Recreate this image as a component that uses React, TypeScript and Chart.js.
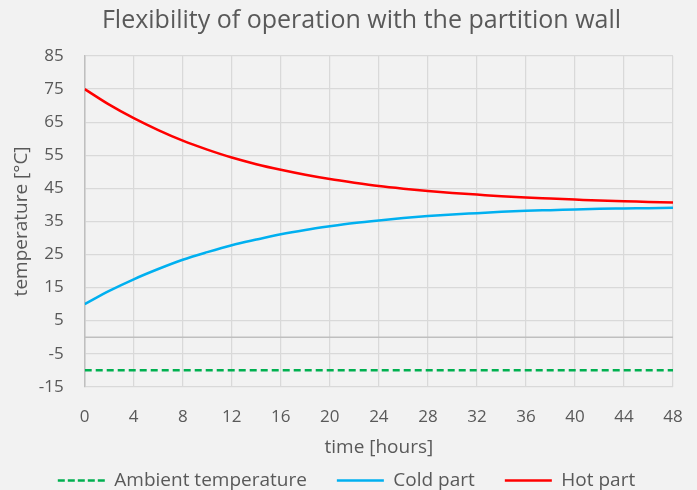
import React, { useEffect, useRef } from "react";
import { Chart, registerables } from "chart.js";
Chart.register(...registerables);

const hours = [0, 2, 4, 6, 8, 10, 12, 14, 16, 18, 20, 22, 24, 26, 28, 30, 32, 34, 36, 38, 40, 42, 44, 46, 48];
const hotPart = [75, 70.3, 66.2, 62.6, 59.4, 56.7, 54.3, 52.3, 50.6, 49.1, 47.8, 46.7, 45.7, 44.9, 44.2, 43.6, 43.1, 42.6, 42.2, 41.9, 41.6, 41.3, 41.1, 40.9, 40.7];
const coldPart = [10, 14.0, 17.5, 20.6, 23.4, 25.7, 27.8, 29.5, 31.1, 32.4, 33.5, 34.5, 35.3, 36.0, 36.6, 37.1, 37.5, 37.9, 38.2, 38.4, 38.6, 38.8, 38.9, 39.0, 39.1];
const ambientTemp = [-10, -10];
const ambientHours = [0, 48];

const zeroLinePlugin = {
  id: "zeroLine",
  beforeDatasetsDraw(chart: any) {
    const { ctx, chartArea, scales } = chart;
    const y = scales.y.getPixelForValue(0);
    ctx.save();
    ctx.strokeStyle = "#bfbfbf";
    ctx.lineWidth = 1.5;
    ctx.beginPath();
    ctx.moveTo(chartArea.left, y);
    ctx.lineTo(chartArea.right, y);
    ctx.stroke();
    ctx.restore();
  },
};

const titleShiftPlugin = {
  id: "titleShift",
  afterLayout(chart: any) {
    if (chart.titleBlock) chart.titleBlock.left += 30;
  },
};

export default function App() {
  const ref = useRef<HTMLCanvasElement>(null);
  useEffect(() => {
    document.body.style.margin = "0";
    document.body.style.background = "#f2f2f2";
    const font = "'Open Sans', 'Noto Sans', sans-serif";
    const chart = new Chart(ref.current!, {
      type: "line",
      data: {
        datasets: [
          {
            label: "Ambient temperature",
            data: ambientHours.map((h, i) => ({ x: h, y: ambientTemp[i] })),
            borderColor: "#00b050",
            backgroundColor: "#00b050",
            borderWidth: 2.5,
            borderDash: [7, 4],
            pointRadius: 0,
          },
          {
            label: "Cold part",
            data: hours.map((h, i) => ({ x: h, y: coldPart[i] })),
            borderColor: "#00b0f0",
            backgroundColor: "#00b0f0",
            borderWidth: 2.5,
            pointRadius: 0,
            cubicInterpolationMode: "monotone",
          },
          {
            label: "Hot part",
            data: hours.map((h, i) => ({ x: h, y: hotPart[i] })),
            borderColor: "#ff0000",
            backgroundColor: "#ff0000",
            borderWidth: 2.5,
            pointRadius: 0,
            cubicInterpolationMode: "monotone",
          },
        ],
      },
      options: {
        animation: false,
        responsive: false,
        maintainAspectRatio: false,
        layout: { padding: { left: 10, right: 14, top: 2, bottom: -10 } },
        plugins: {
          title: {
            display: true,
            text: "Flexibility of operation with the partition wall",
            color: "#595959",
            font: { family: font, size: 25, weight: "normal" },
            padding: { top: 4, bottom: 20 },
          },
          legend: {
            position: "bottom",
            labels: {
              usePointStyle: true,
              pointStyle: "line",
              pointStyleWidth: 47,
              boxHeight: 12,
              color: "#595959",
              font: { family: font, size: 19 },
              padding: 30,
              generateLabels(c: any) {
                const items = Chart.defaults.plugins.legend.labels.generateLabels(c);
                items.forEach((it: any) => {
                  const ds = c.data.datasets[it.datasetIndex];
                  it.lineDash = ds.borderDash ? [7, 3] : [];
                  it.lineWidth = 2.5;
                });
                return items;
              },
            },
          },
          tooltip: { enabled: false },
        },
        scales: {
          x: {
            type: "linear",
            min: 0,
            max: 48,
            afterFit(axis: any) {
              axis.paddingRight = 24;
            },
            ticks: { stepSize: 4, color: "#595959", font: { family: font, size: 17 }, padding: 20 },
            grid: { color: "#d9d9d9", lineWidth: 1.25, drawTicks: false },
            border: { display: false },
            title: {
              display: true,
              text: "time [hours]",
              color: "#595959",
              font: { family: font, size: 19, weight: "normal" },
              padding: { top: -11, bottom: -18 },
            },
          },
          y: {
            min: -15,
            max: 85,
            ticks: { stepSize: 10, color: "#595959", font: { family: font, size: 17 }, padding: 21 },
            grid: { color: "#d9d9d9", lineWidth: 1.25, drawTicks: false },
            border: { display: true, color: "#bfbfbf", width: 1.5 },
            title: {
              display: true,
              text: "temperature [°C]",
              color: "#595959",
              font: { family: font, size: 19, weight: "normal" },
              padding: { top: 0, bottom: -15 },
            },
          },
        },
      },
      plugins: [zeroLinePlugin, titleShiftPlugin],
    } as any);
    return () => chart.destroy();
  }, []);
  return (
    <div style={{ width: 697, height: 490, background: "#f2f2f2" }}>
      <canvas ref={ref} width={697} height={490} />
    </div>
  );
}
